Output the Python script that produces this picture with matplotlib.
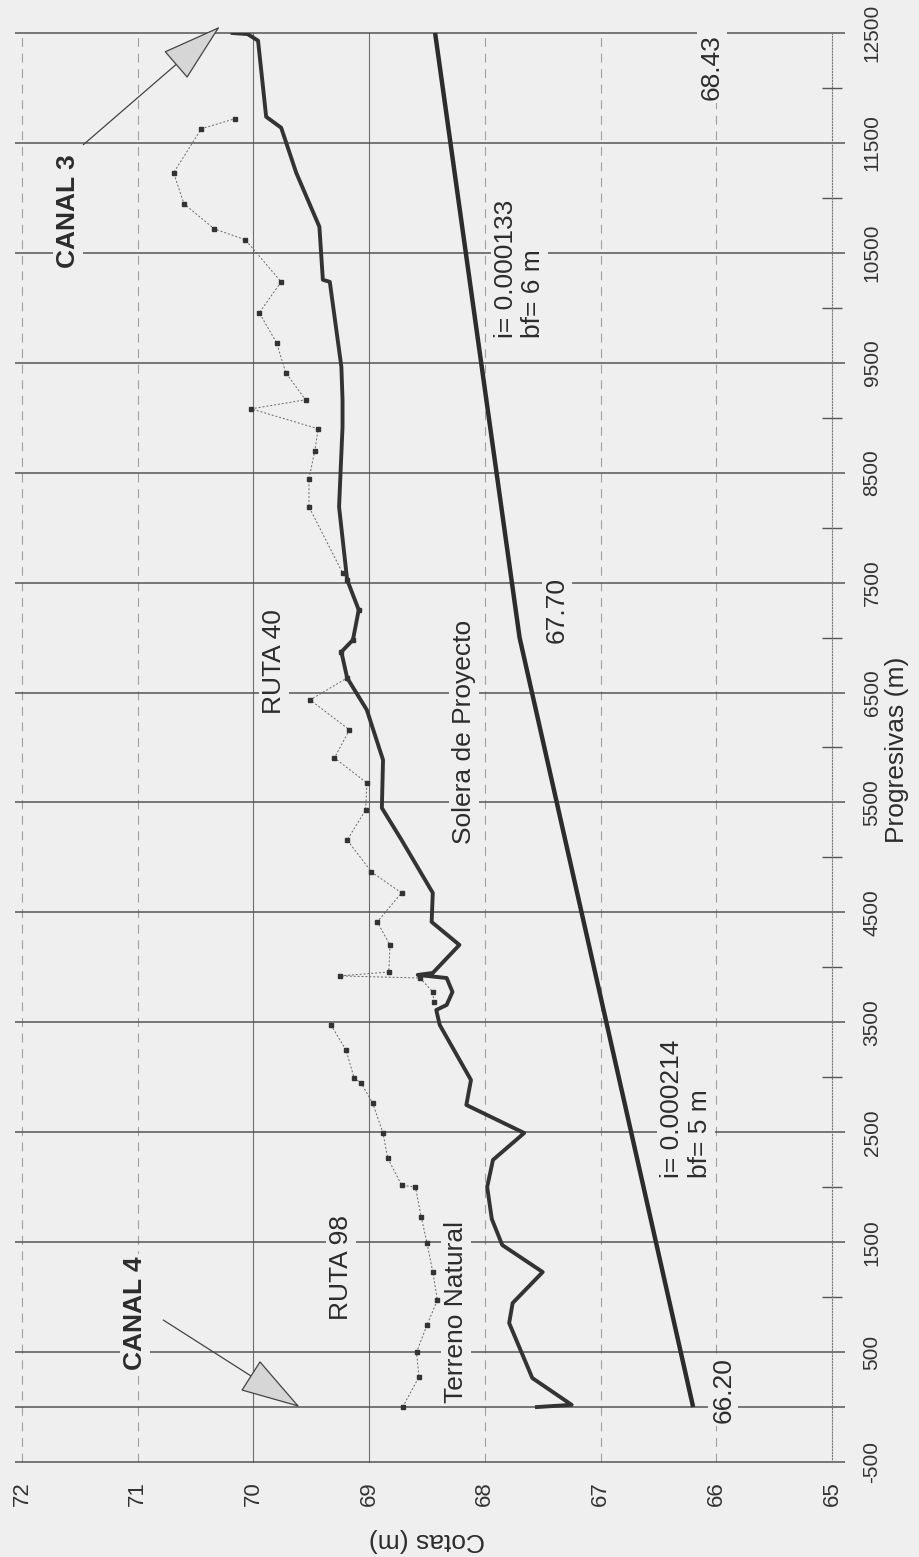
import matplotlib.pyplot as plt
import numpy as np

# perfil longitudinal del canal (grafico escaneado, girado 90 grados)
BG = '#efefef'
INK = '#2c2c2c'

cota_ticks = [72, 71, 70, 69, 68, 67, 66, 65]
prog_ticks = [-500, 500, 1500, 2500, 3500, 4500, 5500, 6500, 7500, 8500, 9500, 10500, 11500, 12500]
prog_lines = [-500, 0, 500, 1500, 2500, 3500, 4500, 5500, 6500, 7500, 8500, 9500, 10500, 11500, 12500]
prog_minor = [1000, 2000, 3000, 4000, 5000, 6000, 7000, 8000, 9000, 10000, 11000, 12000]

# Solera de Proyecto
solera_prog = [0, 7000, 12500]
solera_cota = [66.20, 67.70, 68.43]

# linea gruesa (fondo actual)
fondo_prog = [0, 20, 264, 764, 946, 1228, 1474, 1711, 2002, 2248, 2493, 2748, 2975,
              3476, 3612, 3658, 3776, 3903, 3931, 3949, 4204, 4413, 4677, 5159, 5450,
              5887, 6342, 6633, 6870, 6979, 7252, 7525, 8189, 8917, 9163, 9463, 10236,
              10255, 10737, 11228, 11638, 11738, 12430, 12490, 12500]
fondo_cota = [67.55, 67.25, 67.59, 67.79, 67.76, 67.50, 67.85, 67.94, 67.98, 67.93, 67.66, 68.16, 68.12,
              68.39, 68.42, 68.33, 68.28, 68.33, 68.58, 68.45, 68.22, 68.46, 68.45, 68.72, 68.89,
              68.88, 69.02, 69.19, 69.24, 69.14, 69.09, 69.19, 69.26, 69.23, 69.23, 69.24, 69.34,
              69.40, 69.43, 69.63, 69.76, 69.89, 69.96, 70.05, 70.18]

# Terreno Natural (linea punteada con marcas)
terreno_prog = [0, 273, 500, 746, 974, 1228, 1492, 1729, 2000, 2020, 2266, 2493, 2766, 2948,
                2994, 3248, 3476, np.nan, 3685, 3776, 3903, 3922, 3958, 4204, 4413, 4677, 4868,
                5159, 5432, 5678, 5905, 6160, 6433, 6633, 6870, 6979, 7252, 7525, 7589, 8189,
                8444, 8699, 8899, 9081, 9163, 9409, 9682, 9955, 10236, 10619, 10719, 10946,
                11228, 11629, 11720]
terreno_cota = [68.71, 68.57, 68.59, 68.50, 68.41, 68.45, 68.50, 68.55, 68.60, 68.72, 68.84, 68.88, 68.97, 69.07,
                69.13, 69.20, 69.33, np.nan, 68.44, 68.45, 68.56, 69.25, 68.83, 68.82, 68.93, 68.72, 68.98,
                69.19, 69.03, 69.02, 69.30, 69.17, 69.51, 69.19, 69.24, 69.14, 69.09, 69.19, 69.23, 69.52,
                69.52, 69.47, 69.44, 70.02, 69.55, 69.72, 69.80, 69.95, 69.76, 70.07, 70.34, 70.60,
                70.69, 70.45, 70.16]

plt.rcParams['font.family'] = ['Liberation Sans', 'DejaVu Sans']

fig = plt.figure(figsize=(9.19, 15.57), dpi=100, facecolor=BG)
ax = fig.add_axes([22 / 919, 1 - 1462 / 1557, 810 / 919, 1429 / 1557])
ax.set_facecolor(BG)
ax.set_xlim(72, 65)
ax.set_ylim(-500, 12500)

# grilla
for c in cota_ticks[:-1]:
    if c in (70, 69):
        ax.axvline(c, color='#6e6e6e', lw=0.8, zorder=1, clip_on=False)
    else:
        ax.axvline(c, color='#a0a0a0', lw=0.8, ls=(0, (8, 6)), zorder=1, clip_on=False)
ax.hlines(prog_lines, 72.06, 64.89, colors='#555555', lw=1.1, zorder=1, clip_on=False)

for s in ['left', 'top', 'bottom']:
    ax.spines[s].set_visible(False)
ax.spines['right'].set(color='#777777', lw=0.8, ls=':')

ax.set_xticks(cota_ticks)
ax.set_xticklabels([str(c) for c in cota_ticks], rotation=90, fontsize=16, color='#333333')
ax.tick_params(axis='x', length=0, pad=14)

ax.yaxis.tick_right()
ax.set_yticks(prog_ticks)
ax.set_yticklabels([str(p) for p in prog_ticks], rotation=90, fontsize=15, color='#333333')
ax.set_yticks(prog_minor, minor=True)
ax.tick_params(axis='y', which='major', length=0, pad=22)
ax.tick_params(axis='y', which='minor', direction='inout', length=14, width=1.0, color='#555555')
for lbl in ax.get_yticklabels():
    lbl.set_va('center')

fig.text(427 / 919, 1 - 1540 / 1557, 'Cotas (m)', rotation=180, fontsize=19,
         color=INK, ha='center', va='center')
fig.text(897 / 919, 1 - 750 / 1557, 'Progresivas (m)', rotation=90, fontsize=19,
         color=INK, ha='center', va='center')

# series
ax.plot(solera_cota, solera_prog, color=INK, lw=3.2, zorder=4, solid_capstyle='butt')
ax.plot(terreno_cota, terreno_prog, color='#666666', lw=0.7, ls=(0, (2, 2)),
        marker='s', ms=2.5, mfc='#333333', mec='#333333', zorder=4)
ax.plot(fondo_cota, fondo_prog, color='#333333', lw=2.8, zorder=5)

box = dict(fc=BG, ec='none', pad=2)


def label(x, y, s, **kw):
    kw.setdefault('fontsize', 19)
    ax.text(x, y, s, rotation=90, color=INK, ha='center', va='center',
            bbox=box, zorder=3, **kw)


label(71.60, 10880, 'CANAL 3', fontweight='bold')
label(71.02, 850, 'CANAL 4', fontweight='bold')
label(69.24, 1265, 'RUTA 98')
label(69.82, 6780, 'RUTA 40')
label(68.25, 865, 'Terreno Natural')
label(68.18, 6140, 'Solera de Proyecto')
label(67.38, 7250, '67.70')
label(65.94, 155, '66.20')
label(66.04, 12190, '68.43')

ax.text(66.26, 2084, 'i= 0.000214\nbf= 5 m', rotation=90, color=INK, fontsize=19,
        ha='center', va='bottom', multialignment='left', bbox=box, zorder=3)
ax.text(67.70, 9727, 'i= 0.000133\nbf= 6 m', rotation=90, color=INK, fontsize=19,
        ha='center', va='bottom', multialignment='left', bbox=box, zorder=3)

# flechas de los canales
arrow = dict(arrowstyle='-|>,head_length=2.0,head_width=0.6', fc='#d6d6d6', ec='#444444',
             lw=0.9, shrinkA=0, shrinkB=0, mutation_scale=20)
ax.annotate('', xy=(69.60, 0), xytext=(70.78, 792), arrowprops=arrow,
            annotation_clip=False, zorder=6)
ax.annotate('', xy=(70.29, 12558), xytext=(71.47, 11484), arrowprops=arrow,
            annotation_clip=False, zorder=6)

fig.savefig('out.png', dpi=100, facecolor=BG)
